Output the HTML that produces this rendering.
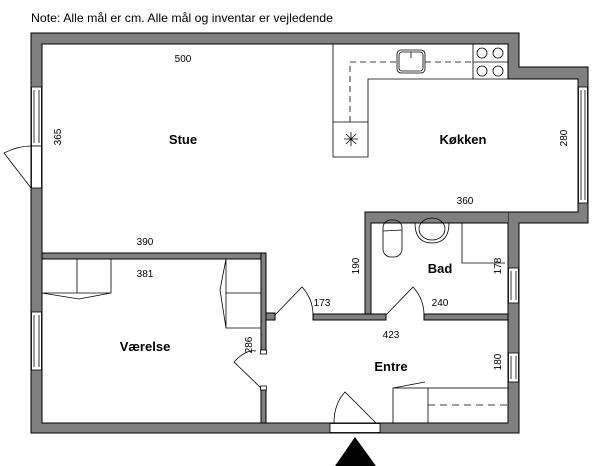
<!DOCTYPE html>
<html><head><meta charset="utf-8"><style>
html,body{margin:0;padding:0;background:#fff;width:600px;height:466px;overflow:hidden}
svg{display:block}
text{font-family:"Liberation Sans",sans-serif;fill:#000}
.d{font-size:10px;text-anchor:middle}
.r{font-size:13px;font-weight:bold;text-anchor:middle}
</style></head><body>
<svg width="600" height="466" viewBox="0 0 600 466" xmlns="http://www.w3.org/2000/svg">
<text x="31" y="22" font-size="12" textLength="302" lengthAdjust="spacingAndGlyphs">Note: Alle mål er cm. Alle mål og inventar er vejledende</text>
<g fill="#808080" stroke="#000" stroke-width="1">
<path d="M31,33 H519 V67 H588 V223 H519 V433 H31 Z M42,44 V423 H508 V212 H578 V79 H508 V44 Z" fill-rule="evenodd"/>
<rect x="365" y="212" width="143" height="11" stroke="none"/>
<path d="M365,212 H508 M371,223 H508" fill="none"/>
<rect x="42" y="253" width="224" height="6"/>
<rect x="261" y="253" width="5" height="97"/>
<rect x="261" y="390" width="5" height="33"/>
<rect x="266" y="313" width="9" height="7"/>
<rect x="365" y="212" width="6" height="107"/>
<rect x="313" y="314" width="73" height="6"/>
<rect x="424" y="314" width="84" height="6"/>
<rect x="365.5" y="212.5" width="142" height="10" stroke="none"/>
</g>
<g fill="#fff" stroke="#000" stroke-width="0.8">
<rect x="31.5" y="87" width="10" height="59"/><line x1="34" y1="90" x2="34" y2="143"/><line x1="39" y1="90" x2="39" y2="143"/>
<rect x="31.5" y="146" width="10" height="42"/>
<rect x="31.5" y="312" width="10" height="58"/><line x1="34" y1="315" x2="34" y2="367"/><line x1="39" y1="315" x2="39" y2="367"/>
<rect x="578.5" y="87" width="9" height="116"/><line x1="581" y1="90" x2="581" y2="200"/><line x1="585" y1="90" x2="585" y2="200"/>
<rect x="508.5" y="268" width="10" height="35"/><line x1="511" y1="271" x2="511" y2="300"/><line x1="516" y1="271" x2="516" y2="300"/>
<rect x="508.5" y="353" width="10" height="29"/><line x1="511" y1="356" x2="511" y2="379"/><line x1="516" y1="356" x2="516" y2="379"/>
<rect x="330" y="423.5" width="50" height="9"/>
<rect x="260.5" y="350" width="6" height="4"/><rect x="260.5" y="386" width="6" height="4"/>
</g>
<g fill="none" stroke="#000" stroke-width="0.8">
<path d="M31,188 L4,153 Q18,146 31,146"/>
<path d="M275,315 L302,287 Q313,299 313,315"/>
<path d="M386,315 L413,287 Q424,299 424,315"/>
<path d="M261,388 L234,362 Q246,349 256,351"/>
<path d="M376,423 L345,392 Q334,404 334,423"/>
<path d="M333,44 V157 H368 V79 H473"/>
<line x1="333" y1="122" x2="368" y2="122"/>
<rect x="473" y="44" width="35" height="35"/>
<line x1="473" y1="62" x2="508" y2="62"/>
<circle cx="482" cy="53" r="5"/><circle cx="498" cy="53" r="5"/>
<circle cx="482" cy="71" r="5"/><circle cx="498" cy="71" r="5"/>
<path d="M350,122 V62 H397 M425,62 H473" stroke-dasharray="6,4"/>
<rect x="397" y="50" width="28" height="23" rx="4"/><rect x="399" y="52" width="24" height="19" rx="3"/>
<line x1="411" y1="52" x2="411" y2="58"/>
<path d="M344,139 H358 M351,132 V146 M346,134 L356,144 M356,134 L346,144"/>
<rect x="383" y="220" width="19" height="37" rx="8"/><line x1="383" y1="231" x2="402" y2="230"/>
<path d="M415,223 Q415,243 432,243 Q449,243 449,223 V223"/>
<ellipse cx="432" cy="229" rx="13" ry="11"/>
<path d="M462,223 V263 H505"/>
<path d="M42,293 H111 V259 M77,259 V293 M42,293 L79,299 L111,293"/>
<path d="M261,328 H226 V259 M226,293 H261 M226,259 L220,290 L226,328"/>
<rect x="393" y="388" width="115" height="35"/><line x1="428" y1="388" x2="428" y2="423"/>
<line x1="428" y1="405" x2="508" y2="405" stroke-dasharray="7,5"/>
<line x1="393" y1="388" x2="425" y2="382"/>
</g>
<polygon points="335,466 355,437 376,466" fill="#000"/>
<text class="d" x="183" y="62">500</text>
<text class="r" x="183" y="144">Stue</text>
<text class="r" x="463" y="144">Køkken</text>
<text class="d" x="465" y="204">360</text>
<text class="d" x="145" y="245">390</text>
<text class="d" x="145" y="277">381</text>
<text class="r" x="145" y="351">Værelse</text>
<text class="d" x="322" y="306">173</text>
<text class="r" x="440" y="273">Bad</text>
<text class="d" x="440" y="306">240</text>
<text class="d" x="391" y="338">423</text>
<text class="r" x="391" y="371">Entre</text>
<text class="d" transform="translate(61,137) rotate(-90)">365</text>
<text class="d" transform="translate(567,138) rotate(-90)">280</text>
<text class="d" transform="translate(252,345) rotate(-90)">286</text>
<text class="d" transform="translate(359,266) rotate(-90)">190</text>
<text class="d" transform="translate(501,266) rotate(-90)">178</text>
<text class="d" transform="translate(501,362) rotate(-90)">180</text>
</svg>
</body></html>
